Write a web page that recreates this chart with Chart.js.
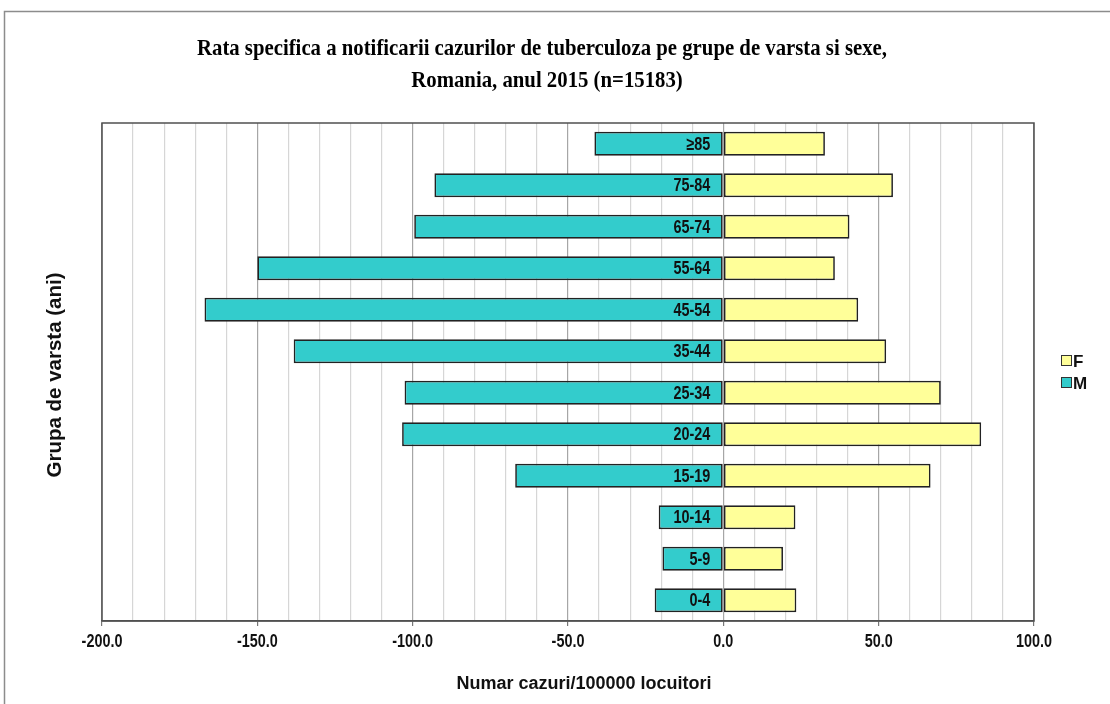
<!DOCTYPE html>
<html>
<head>
<meta charset="utf-8">
<script src="https://cdn.jsdelivr.net/npm/chart.js@4/dist/chart.umd.min.js"></script>
<style>
  html, body { margin: 0; padding: 0; background: #ffffff; }
  #wrap { width: 1110px; height: 704px; position: relative; }
</style>
</head>
<body>
<div id="wrap"><canvas id="c" width="1110" height="704"></canvas></div>
<script>
// ---- data ----
const categories = ['≥85','75-84','65-74','55-64','45-54','35-44','25-34','20-24','15-19','10-14','5-9','0-4'];
const maleRates   = [-41.5, -93.0, -99.5, -150.0, -167.0, -138.3, -102.6, -103.4, -67.0, -20.8, -19.6, -22.1];
const femaleRates = [32.7, 54.6, 40.6, 35.9, 43.4, 52.4, 70.0, 83.0, 66.7, 23.2, 19.2, 23.5];
const seriesNames = ['M', 'F'];
const titleLines = ['Rata specifica a notificarii cazurilor de tuberculoza pe grupe de varsta si sexe,', 'Romania, anul 2015 (n=15183)'];
const xAxisTitle = 'Numar cazuri/100000 locuitori';
const yAxisTitle = 'Grupa de varsta (ani)';

const SANS = '"Liberation Sans", Arial, sans-serif';
const SERIF = '"Liberation Serif", "Times New Roman", serif';
const NARROW_SCALE = 0.8;
const colors = { M: '#33CCCC', F: '#FFFF99' };

function narrowText(ctx, text, x, y, align) {
  ctx.save();
  ctx.translate(x, y);
  ctx.scale(NARROW_SCALE, 1);
  ctx.textAlign = align;
  ctx.fillText(text, 0, 0);
  ctx.restore();
}

const decorPlugin = {
  id: 'decor',
  beforeDraw(chart) {
    const ctx = chart.ctx;
    ctx.save();
    ctx.fillStyle = '#ffffff';
    ctx.fillRect(0, 0, chart.width, chart.height);
    ctx.strokeStyle = '#8c8c8c';
    ctx.lineWidth = 1.5;
    ctx.strokeRect(4.5, 11.5, chart.width + 20, chart.height + 20);
    ctx.restore();
  },
  afterDatasetsDraw(chart) {
    const ctx = chart.ctx;
    const a = chart.chartArea;
    const xs = chart.scales.x, ys = chart.scales.y;
    ctx.save();
    // plot border
    ctx.strokeStyle = '#505050';
    ctx.lineWidth = 1.5;
    ctx.strokeRect(a.left, a.top, a.right - a.left, a.bottom - a.top);
    // category labels inside the male bars
    ctx.fillStyle = '#111111';
    ctx.font = 'bold 18px ' + SANS;
    ctx.textBaseline = 'middle';
    const x0 = xs.getPixelForValue(0);
    categories.forEach((c, i) => {
      narrowText(ctx, c, x0 - 13, ys.getPixelForValue(i) + 1, 'right');
    });
    // x tick labels (major ticks only)
    xs.ticks.forEach(t => {
      if (Math.round(t.value) % 50 === 0) {
        narrowText(ctx, Number(t.value).toFixed(1), xs.getPixelForValue(t.value), a.bottom + 21, 'center');
      }
    });
    ctx.restore();
  },
  afterDraw(chart) {
    const ctx = chart.ctx;
    ctx.save();
    // title
    ctx.fillStyle = '#000000';
    ctx.font = 'bold 24px ' + SERIF;
    ctx.textAlign = 'center';
    ctx.textBaseline = 'alphabetic';
    const w1 = ctx.measureText(titleLines[0]).width;
    const sx = 690 / w1;
    ctx.save(); ctx.translate(542, 55); ctx.scale(sx, 1); ctx.fillText(titleLines[0], 0, 0); ctx.restore();
    ctx.save(); ctx.translate(547, 87); ctx.scale(sx, 1); ctx.fillText(titleLines[1], 0, 0); ctx.restore();
    // axis titles
    ctx.fillStyle = '#111111';
    ctx.textBaseline = 'middle';
    ctx.font = 'bold 18px ' + SANS;
    ctx.fillText(xAxisTitle, 584, 684);
    ctx.font = 'bold 20.5px ' + SANS;
    ctx.save(); ctx.translate(55, 375); ctx.rotate(-Math.PI / 2); ctx.fillText(yAxisTitle, 0, 0); ctx.restore();
    // legend
    const items = [{ n: seriesNames[1], y: 361 }, { n: seriesNames[0], y: 383 }];
    ctx.textAlign = 'left';
    ctx.font = 'bold 17px ' + SANS;
    items.forEach(it => {
      ctx.fillStyle = colors[it.n];
      ctx.fillRect(1062, it.y - 5, 9, 9);
      ctx.strokeStyle = '#333333';
      ctx.lineWidth = 1;
      ctx.strokeRect(1061.5, it.y - 5.5, 10, 10);
      ctx.fillStyle = '#111111';
      ctx.fillText(it.n, 1073, it.y + 1);
    });
    ctx.restore();
  }
};

new Chart(document.getElementById('c'), {
  type: 'bar',
  data: {
    labels: categories,
    datasets: [
      { label: seriesNames[0], data: maleRates, backgroundColor: colors.M, borderColor: '#222222', borderWidth: 1.7, borderSkipped: false, barPercentage: 0.58, categoryPercentage: 1.0 },
      { label: seriesNames[1], data: femaleRates, backgroundColor: colors.F, borderColor: '#222222', borderWidth: 1.7, borderSkipped: false, barPercentage: 0.58, categoryPercentage: 1.0 }
    ]
  },
  options: {
    indexAxis: 'y',
    responsive: false,
    animation: false,
    devicePixelRatio: 1,
    layout: { padding: { left: 102, right: 76, top: 123, bottom: 0 } },
    plugins: { legend: { display: false }, title: { display: false }, tooltip: { enabled: false } },
    scales: {
      x: {
        type: 'linear',
        min: -200, max: 100,
        stacked: true,
        afterFit(s) { s.height = 83; },
        ticks: {
          stepSize: 10,
          autoSkip: false,
          maxRotation: 0,
          display: false
        },
        grid: {
          color(ctx) { const v = ctx.tick ? ctx.tick.value : 0; return (Math.round(v) % 50 === 0) ? '#a6a6a6' : '#d6d6d6'; },
          lineWidth: 1.2,
          tickLength: 5,
          tickColor(ctx) { const v = ctx.tick ? ctx.tick.value : 0; return (Math.round(v) % 50 === 0) ? '#777777' : 'rgba(0,0,0,0)'; }
        },
        border: { display: true, color: '#505050', width: 1.5 }
      },
      y: {
        stacked: true,
        display: false,
        grid: { display: false }
      }
    }
  },
  plugins: [decorPlugin]
});
</script>
</body>
</html>
